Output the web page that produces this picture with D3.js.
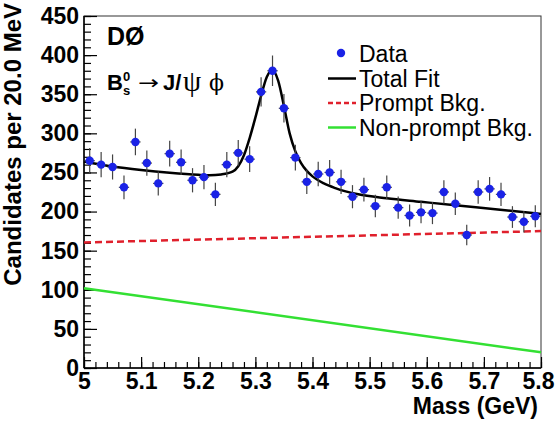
<!DOCTYPE html>
<html>
<head>
<meta charset="utf-8">
<script src="https://cdn.jsdelivr.net/npm/d3@7"></script>
<style>
  body { margin: 0; background: #fff; }
  text { font-family: "Liberation Sans", Arial, Helvetica, sans-serif; }
</style>
</head>
<body>
<div id="chart"></div>
<script>
// bin centres (20 MeV bins) and candidate counts
const massBins = [5.01, 5.03, 5.05, 5.07, 5.09, 5.11, 5.13, 5.15, 5.17, 5.19,
                  5.21, 5.23, 5.25, 5.27, 5.29, 5.31, 5.33, 5.35, 5.37, 5.39,
                  5.41, 5.43, 5.45, 5.47, 5.49, 5.51, 5.53, 5.55, 5.57, 5.59,
                  5.61, 5.63, 5.65, 5.67, 5.69, 5.71, 5.73, 5.75, 5.77, 5.79];
const candidates = [265, 260, 257, 231, 289, 262, 236, 274, 263, 240,
                    244, 222, 260, 275, 267, 353, 380, 332, 269, 238,
                    248, 250, 238, 219, 228, 207, 231, 205, 195, 199,
                    198, 225, 210, 170, 225, 229, 222, 193, 187, 194];

// total fit curve
const fitMass = [5.00, 5.05, 5.10, 5.15, 5.20, 5.22, 5.24, 5.26, 5.27, 5.28,
                 5.29, 5.30, 5.31, 5.32, 5.33, 5.34, 5.35, 5.36, 5.37, 5.38,
                 5.39, 5.40, 5.42, 5.44, 5.48, 5.53, 5.59, 5.65, 5.72, 5.80];
const fitTotal = [264, 257.5, 253, 249.5, 247, 246.5, 247.5, 251, 258, 272,
                  294, 320, 348, 372, 381, 367, 335, 300, 277, 262,
                  252, 245, 236, 230, 222, 217, 212.5, 208, 203, 197];

// background components (straight lines)
const bkgMass = [5.0, 5.8];
const promptBkg = [160.5, 175];
const nonpromptBkg = [102, 20];

const xTicks = [5, 5.1, 5.2, 5.3, 5.4, 5.5, 5.6, 5.7, 5.8];
const yTicks = [0, 50, 100, 150, 200, 250, 300, 350, 400, 450];

const legendItems = [
  { label: "Data", kind: "marker" },
  { label: "Total Fit", kind: "solid", color: "#000" },
  { label: "Prompt Bkg.", kind: "dash", color: "#e0202c" },
  { label: "Non-prompt Bkg.", kind: "solid", color: "#33e033" }
];

function render(el, width = 555, height = 421) {
    var margin = { top: 16, right: 14, bottom: 53, left: 84 };

    var svg = d3.select(el).append('svg')
        .attr('width', width)
        .attr('height', height)
        .style('background', '#fff');

    var x = d3.scaleLinear().domain([5, 5.8]).range([margin.left, width - margin.right]);
    var y = d3.scaleLinear().domain([0, 450]).range([height - margin.bottom, margin.top]);

    // frame
    svg.append('rect')
        .attr('x', x(5)).attr('y', y(450))
        .attr('width', x(5.8) - x(5)).attr('height', y(0) - y(450))
        .attr('fill', 'none').attr('stroke', '#333').attr('stroke-width', 1);

    // y axis, ticks point inward
    var yMinor = d3.range(0, 451, 10);
    svg.append('g')
        .attr('transform', 'translate(' + x(5) + ',0)')
        .call(d3.axisLeft(y).tickValues(yMinor).tickSize(-7).tickFormat(''))
        .call(g => g.select('.domain').remove());
    svg.append('g')
        .attr('class', 'y-axis')
        .attr('transform', 'translate(' + x(5) + ',0)')
        .call(d3.axisLeft(y).tickValues(yTicks).tickSize(-13).tickPadding(5))
        .call(g => g.select('.domain').remove());

    // x axis
    var xMinor = d3.range(0, 41).map(i => 5 + i * 0.02);
    svg.append('g')
        .attr('transform', 'translate(0,' + y(0) + ')')
        .call(d3.axisBottom(x).tickValues(xMinor).tickSize(-6).tickFormat(''))
        .call(g => g.select('.domain').remove());
    svg.append('g')
        .attr('class', 'x-axis')
        .attr('transform', 'translate(0,' + y(0) + ')')
        .call(d3.axisBottom(x).tickValues(xTicks).tickSize(-11).tickPadding(5).tickFormat(d3.format('')))
        .call(g => g.select('.domain').remove());

    svg.selectAll('.tick line').attr('stroke', '#000').attr('stroke-width', 1.2);
    svg.selectAll('.tick text')
        .attr('fill', '#000')
        .style('font-family', '"Liberation Sans", Arial, sans-serif')
        .style('font-weight', 'bold')
        .style('font-size', '23px');
    // keep the last x label inside the picture
    svg.selectAll('.x-axis .tick text').filter(d => d === 5.8).attr('dx', '-3');

    // axis lines
    svg.append('line')
        .attr('x1', x(5)).attr('x2', x(5)).attr('y1', y(0)).attr('y2', y(450))
        .attr('stroke', '#000').attr('stroke-width', 1.5);
    svg.append('line')
        .attr('x1', x(5)).attr('x2', x(5.8)).attr('y1', y(0)).attr('y2', y(0))
        .attr('stroke', '#000').attr('stroke-width', 1.5);

    // axis titles
    svg.append('text')
        .attr('transform', 'translate(21,3) rotate(-90)')
        .attr('text-anchor', 'end')
        .style('font-weight', 'bold').style('font-size', '24px')
        .text('Candidates per 20.0 MeV');
    svg.append('text')
        .attr('x', 538).attr('y', 414)
        .attr('text-anchor', 'end')
        .style('font-weight', 'bold').style('font-size', '23px')
        .text('Mass (GeV)');

    // background curves
    var bkgLine = values => d3.line()
        .x((d, i) => x(bkgMass[i]))
        .y(d => y(d))(values);
    svg.append('path').attr('d', bkgLine(nonpromptBkg))
        .attr('fill', 'none').attr('stroke', '#33e033').attr('stroke-width', 2.5);
    svg.append('path').attr('d', bkgLine(promptBkg))
        .attr('fill', 'none').attr('stroke', '#e0202c').attr('stroke-width', 2.5)
        .attr('stroke-dasharray', '7,4');

    // total fit
    var fitLine = d3.line()
        .x((d, i) => x(fitMass[i]))
        .y(d => y(d))
        .curve(d3.curveMonotoneX);
    svg.append('path').attr('d', fitLine(fitTotal))
        .attr('fill', 'none').attr('stroke', '#000').attr('stroke-width', 2.5);

    // data points with errors
    var pts = svg.selectAll('.pt')
        .data(candidates)
        .enter()
        .append('g')
        .attr('class', 'pt');
    pts.append('line')
        .attr('x1', (d, i) => x(massBins[i])).attr('x2', (d, i) => x(massBins[i]))
        .attr('y1', d => y(d + Math.sqrt(d))).attr('y2', d => y(d - Math.sqrt(d)))
        .attr('stroke', '#444').attr('stroke-width', 1.2);
    pts.append('line')
        .attr('x1', (d, i) => x(massBins[i] - 0.009)).attr('x2', (d, i) => x(massBins[i] + 0.009))
        .attr('y1', d => y(d)).attr('y2', d => y(d))
        .attr('stroke', '#444').attr('stroke-width', 1.2);
    pts.append('circle')
        .attr('cx', (d, i) => x(massBins[i]))
        .attr('cy', d => y(d))
        .attr('r', 4.2)
        .attr('fill', '#1a22e6');

    // experiment / decay labels
    svg.append('text')
        .attr('x', 107).attr('y', 45)
        .style('font-weight', 'bold').style('font-size', '25px')
        .text('DØ');
    var decay = svg.append('g');
    decay.append('text').attr('x', 107).attr('y', 90)
        .style('font-weight', 'bold').style('font-size', '22px').text('B');
    decay.append('text').attr('x', 123).attr('y', 81)
        .style('font-weight', 'bold').style('font-size', '13px').text('0');
    decay.append('text').attr('x', 123).attr('y', 95)
        .style('font-weight', 'bold').style('font-size', '13px').text('s');
    decay.append('text').attr('x', 138).attr('y', 89)
        .attr('textLength', 21).attr('lengthAdjust', 'spacingAndGlyphs')
        .style('font-family', '"DejaVu Sans", sans-serif').style('font-size', '19px').text('→');
    decay.append('text').attr('x', 163).attr('y', 90)
        .style('font-weight', 'bold').style('font-size', '22px').text('J/');
    decay.append('text').attr('x', 183).attr('y', 91)
        .style('font-family', '"Liberation Serif", serif').style('font-size', '29px').text('ψ');
    decay.append('text').attr('x', 209).attr('y', 90)
        .style('font-family', '"DejaVu Serif", serif').style('font-size', '22px').text('ϕ');

    // legend
    var legend = svg.selectAll('.legend')
        .data(legendItems)
        .enter()
        .append('g')
        .attr('class', 'legend')
        .attr('transform', (d, i) => 'translate(0,' + (62 + i * 24.5) + ')');
    legend.append('text')
        .attr('x', 359).attr('y', 0)
        .style('font-size', '23px')
        .text(d => d.label);
    legend.filter(d => d.kind === 'marker').append('circle')
        .attr('cx', 341).attr('cy', -9).attr('r', 4.2).attr('fill', '#1a22e6');
    legend.filter(d => d.kind !== 'marker').append('line')
        .attr('x1', 328).attr('x2', 356).attr('y1', -8).attr('y2', -8)
        .attr('stroke', d => d.color).attr('stroke-width', 2.5)
        .attr('stroke-dasharray', d => d.kind === 'dash' ? '5,3' : null);

    return svg.node();
}

render(document.getElementById('chart'));
</script>
</body>
</html>
